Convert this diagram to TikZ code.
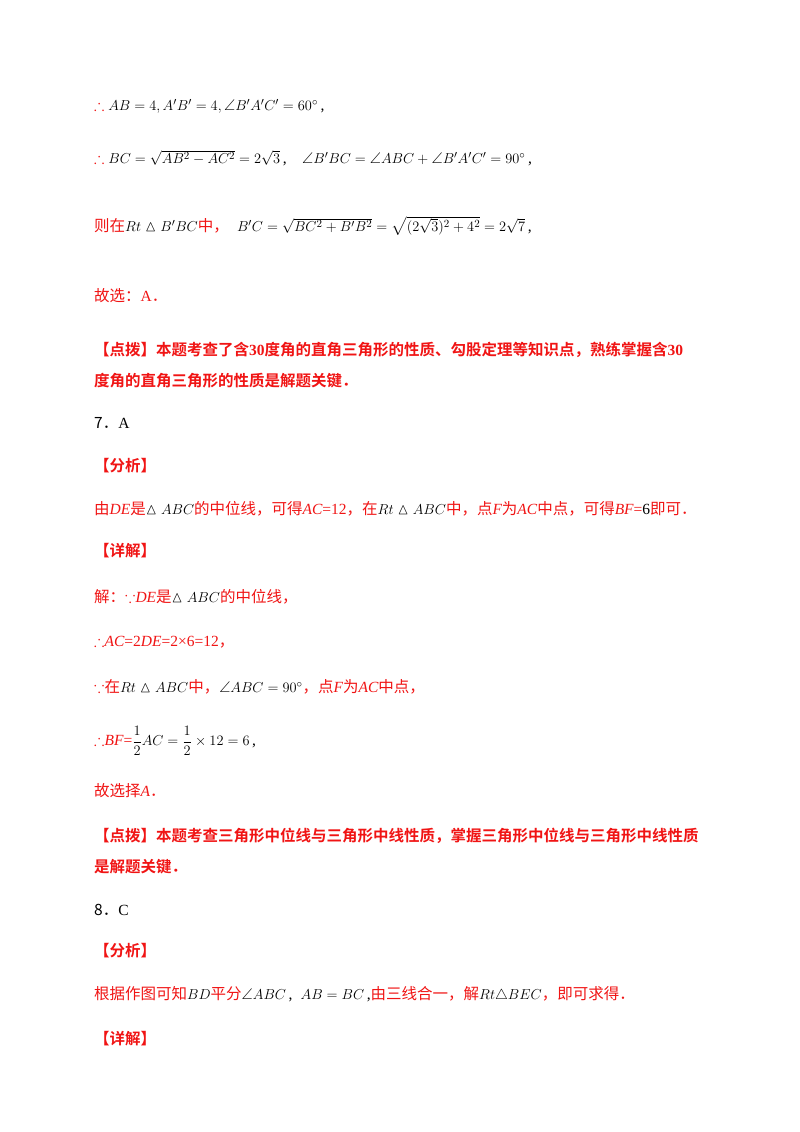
\documentclass[tikz,border=0pt]{standalone}
\usepackage{amsmath,amssymb}
\usepackage{fontspec}
\setmainfont{Liberation Serif}
\newfontfamily\cjk{Noto Sans CJK SC}
\newfontfamily\cjkb{Noto Sans CJK SC Bold}
\usepackage{xcolor}
\definecolor{rd}{RGB}{240,20,20}
\newcommand{\rr}[1]{\textcolor{rd}{#1}}
\newcommand{\iv}[1]{{\normalfont\itshape #1}}
\newcommand{\nv}[1]{{\normalfont #1}}
\begin{document}
\begin{tikzpicture}[x=1pt,y=-1pt,every node/.style={anchor=west,inner sep=0pt,font=\fontsize{15.5}{18}\selectfont}]
\useasboundingbox (0,0) rectangle (800,1132);
\node (l1) at (94,106) {\rr{$\therefore$} $AB=4, A'B'=4, \angle B'A'C'=60^\circ$\,,};
\node (l2) at (94,158) {\rr{$\therefore$} $BC=\sqrt{AB^2-AC^2}=2\sqrt3$\,,\quad $\angle B'BC=\angle ABC+\angle B'A'C'=90^\circ$\,,};
\node (l3) at (94,226) {\rr{\cjk 则在}$Rt\vartriangle B'BC$\rr{\cjk 中，}\; $B'C=\sqrt{BC^2+B'B^2}=\sqrt{(2\sqrt3)^2+4^2}=2\sqrt7$\,,};
\node (l4) at (94,296) {\rr{\cjk 故选：\nv{A}．}};
\node (l5) at (94,350) {\rr{\cjkb 【点拨】本题考查了含\nv{\bfseries 30}度角的直角三角形的性质、勾股定理等知识点，熟练掌握含\nv{\bfseries 30}}};
\node (l6) at (94,381) {\rr{\cjkb 度角的直角三角形的性质是解题关键．}};
\node (l7) at (94,423) {\cjk 7．\nv{A}};
\node (l8) at (94,466) {\rr{\cjkb 【分析】}};
\node (l9) at (94,509) {\rr{\cjk 由\iv{DE}是}$\vartriangle ABC$\rr{\cjk 的中位线，可得\iv{AC}\nv{=12}，在}$Rt\vartriangle ABC$\rr{\cjk 中，点\iv{F}为\iv{AC}中点，可得\iv{BF}\nv{=}}6\rr{\cjk 即可．}};
\node (l10) at (94,551) {\rr{\cjkb 【详解】}};
\node (l11) at (94,597) {\rr{\cjk 解：$\because$\iv{DE}是}$\vartriangle ABC$\rr{\cjk 的中位线，}};
\node (l12) at (94,642) {\rr{$\therefore$\textit{AC}=2\textit{DE}=2×6=12{\cjk ，}}};
\node (l13) at (94,687) {\rr{$\because${\cjk 在}}$Rt\vartriangle ABC$\rr{\cjk 中，}$\angle ABC=90^\circ$\rr{\cjk ，点\iv{F}为\iv{AC}中点，}};
\node (l14) at (94,741) {\rr{$\therefore$\textit{BF}=}$\dfrac12 AC=\dfrac12\times12=6$\,,};
\node (l15) at (94,791) {\rr{\cjk 故选择\iv{A}．}};
\node (l16) at (94,836) {\rr{\cjkb 【点拨】本题考查三角形中位线与三角形中线性质，掌握三角形中位线与三角形中线性质}};
\node (l17) at (94,867) {\rr{\cjkb 是解题关键．}};
\node (l18) at (94,910) {\cjk 8．\nv{C}};
\node (l19) at (94,951) {\rr{\cjkb 【分析】}};
\node (l20) at (94,994) {\rr{\cjk 根据作图可知}$BD$\rr{\cjk 平分}$\angle ABC$\,,\; $AB=BC$\,,\rr{\cjk 由三线合一，解}$Rt\triangle BEC$\rr{\cjk ，即可求得．}};
\node (l21) at (94,1039) {\rr{\cjkb 【详解】}};
\end{tikzpicture}
\end{document}
